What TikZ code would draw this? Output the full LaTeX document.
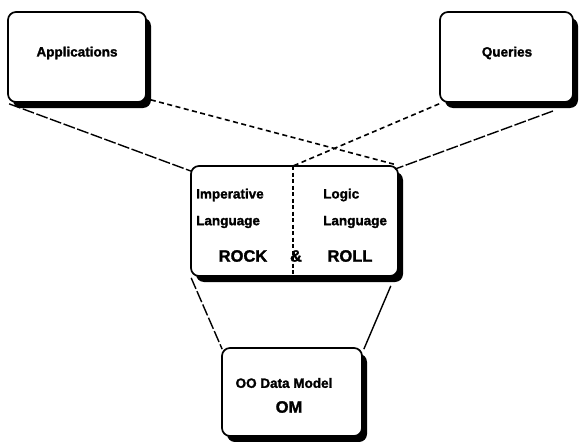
\documentclass[tikz,border=0pt]{standalone}
\usepackage{fontspec}
\setmainfont{Liberation Sans}[BoldFeatures={FakeBold=1.5}]
\usetikzlibrary{shadows,calc}
\begin{document}
\begin{tikzpicture}[x=1pt,y=-1pt,
  box/.style={draw=black, line width=1.7pt, rounded corners=8pt, fill=white,
    inner sep=0pt,
    drop shadow={shadow xshift=5pt, shadow yshift=-6pt, opacity=1, fill=black}},
  lbl/.style={font=\bfseries\fontsize{13.5}{15}\selectfont, inner sep=0pt},
  big/.style={font=\bfseries\fontsize{16.5}{18}\selectfont, inner sep=0pt},
  shortdash/.style={line width=1.6pt, dash pattern=on 5pt off 3.5pt},
  longdash/.style={line width=1.4pt, dash pattern=on 12pt off 2.5pt},
  divline/.style={line width=1.1pt, dash pattern=on 4pt off 2.5pt}]
\useasboundingbox (0,0) rectangle (582,442);
% boxes
\node[box, minimum width=138pt, minimum height=90pt] (app) at (77,57) {};
\node[box, minimum width=133pt, minimum height=90pt] (qry) at (506.5,57) {};
\node[box, minimum width=207pt, minimum height=110pt] (mid) at (294.5,221) {};
\node[box, minimum width=140pt, minimum height=88pt] (om) at (292,392) {};
% texts
\node[lbl] (tapp) at (77,53) {Applications};
\node[lbl] (tqry) at (507,53) {Queries};
\node[lbl, anchor=west] (imp) at (196,195) {Imperative};
\node[lbl, anchor=west] (lang1) at (196,222) {Language};
\node[lbl, anchor=west] (logic) at (323,195) {Logic};
\node[lbl, anchor=west] (lang2) at (323,222) {Language};
\node[big] (rock) at (243,256) {ROCK};
\node[big] (amp) at (296,256) {\&};
\node[big] (roll) at (350,256) {ROLL};
\node[lbl] (oodm) at (284,383) {OO Data Model};
\node[big] (omt) at (289,407) {OM};
% divider
\coordinate (dtop) at (293,166);
\coordinate (dbot) at (293,276);
\draw[divline] (dtop) -- (dbot);
% connectors
\coordinate (qsl) at (553,111);
\draw[longdash] ($(app.south west)+(2,1)$) -- ($(mid.north west)+(1,6)$);
\draw[shortdash] ($(app.south east)+(4,-3)$) -- ($(mid.north east)+(-5,-1)$);
\draw[shortdash] ($(qry.south west)+(0,1)$) -- (dtop);
\draw[longdash] (qsl) -- ($(mid.north east)+(-4,4)$);
\draw[longdash] ($(mid.south west)+(1,1)$) -- ($(om.north west)+(1,2)$);
\draw[line width=1.4pt] ($(mid.south east)+(-8,9)$) -- ($(om.north east)+(1,2)$);
\end{tikzpicture}
\end{document}
